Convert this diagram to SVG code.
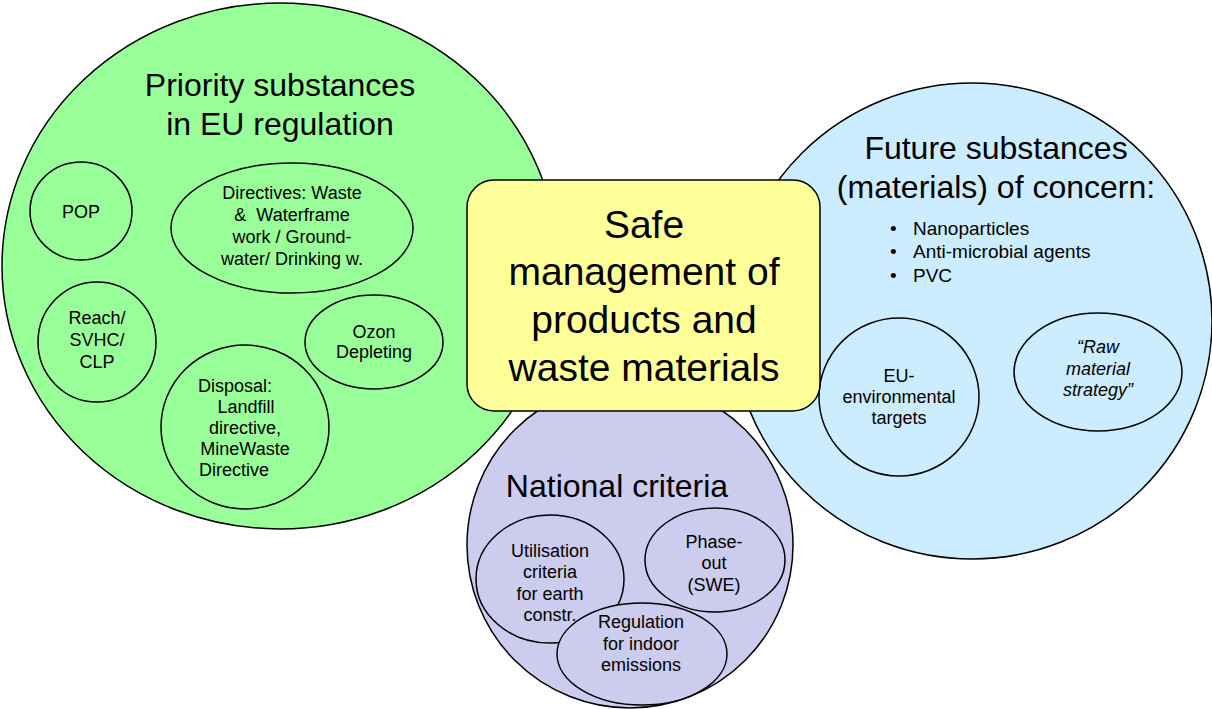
<svg xmlns="http://www.w3.org/2000/svg" width="1212" height="709" viewBox="0 0 1212 709">
<style>
text{font-family:"Liberation Sans",Arial,sans-serif;fill:#000;text-anchor:middle}
.o{stroke:#000;stroke-width:1.5}
.g{fill:#99FF99}
.b{fill:#CCECFF}
.p{fill:#CCCCEE}
.y{fill:#FFFF99}
.t{font-size:32px}
.s{font-size:18px}
.c{font-size:39px}
.bl{font-size:19px;text-anchor:start}
</style>
<rect width="1212" height="709" fill="#fff"/>
<g id="priority">
<ellipse class="o g" cx="280" cy="266" rx="278" ry="263"/>
<text class="t" x="280" y="96">Priority substances</text>
<text class="t" x="280" y="135">in EU regulation</text>
</g>
<g id="pop">
<ellipse class="o g" cx="81" cy="211" rx="51" ry="49"/>
<text class="s" x="81" y="218">POP</text>
</g>
<g id="directives">
<ellipse class="o g" cx="292" cy="228" rx="121" ry="65"/>
<text class="s" x="292" y="199">Directives: Waste</text>
<text class="s" x="292" y="221" xml:space="preserve">&amp;  Waterframe</text>
<text class="s" x="292" y="243">work / Ground-</text>
<text class="s" x="292" y="265">water/ Drinking w.</text>
</g>
<g id="reach">
<ellipse class="o g" cx="97" cy="342" rx="59" ry="60"/>
<text class="s" x="97" y="324">Reach/</text>
<text class="s" x="97" y="346">SVHC/</text>
<text class="s" x="97" y="368">CLP</text>
</g>
<g id="ozon">
<ellipse class="o g" cx="374" cy="342" rx="69" ry="47"/>
<text class="s" x="374" y="338">Ozon</text>
<text class="s" x="374" y="358">Depleting</text>
</g>
<g id="disposal">
<ellipse class="o g" cx="245" cy="427" rx="84" ry="82"/>
<text class="s" x="235" y="392">Disposal:</text>
<text class="s" x="246" y="413">Landfill</text>
<text class="s" x="245" y="434">directive,</text>
<text class="s" x="245" y="455">MineWaste</text>
<text class="s" x="234" y="476">Directive</text>
</g>
<g id="future">
<ellipse class="o b" cx="972" cy="321" rx="240" ry="238"/>
<text class="t" x="996" y="159">Future substances</text>
<text class="t" x="996" y="198">(materials) of concern:</text>
<text class="bl" x="890" y="235">•</text>
<text class="bl" x="913" y="235">Nanoparticles</text>
<text class="bl" x="890" y="258">•</text>
<text class="bl" x="913" y="258">Anti-microbial agents</text>
<text class="bl" x="890" y="282">•</text>
<text class="bl" x="913" y="282">PVC</text>
</g>
<g id="eu-targets">
<ellipse class="o b" cx="899" cy="397" rx="80" ry="79"/>
<text class="s" x="899" y="382">EU-</text>
<text class="s" x="899" y="403">environmental</text>
<text class="s" x="899" y="424">targets</text>
</g>
<g id="raw-material">
<ellipse class="o b" cx="1098" cy="372" rx="84" ry="59"/>
<text class="s" x="1098" y="353" font-style="italic">“Raw</text>
<text class="s" x="1098" y="375" font-style="italic">material</text>
<text class="s" x="1098" y="396" font-style="italic">strategy”</text>
</g>
<g id="national">
<ellipse class="o p" cx="630" cy="545" rx="163" ry="163"/>
<text class="t" x="617" y="497">National criteria</text>
</g>
<g id="utilisation">
<ellipse class="o p" cx="550" cy="579" rx="74" ry="64"/>
<text class="s" x="550" y="557">Utilisation</text>
<text class="s" x="550" y="578">criteria</text>
<text class="s" x="550" y="600">for earth</text>
<text class="s" x="550" y="621">constr.</text>
</g>
<g id="phase-out">
<ellipse class="o p" cx="715" cy="560" rx="70" ry="52"/>
<text class="s" x="714" y="548">Phase-</text>
<text class="s" x="714" y="569">out</text>
<text class="s" x="714" y="591">(SWE)</text>
</g>
<g id="regulation">
<ellipse class="o p" cx="642" cy="654" rx="85" ry="51"/>
<text class="s" x="641" y="628">Regulation</text>
<text class="s" x="641" y="650">for indoor</text>
<text class="s" x="641" y="671">emissions</text>
</g>
<g id="safe">
<rect class="o y" x="467" y="180" width="353" height="231" rx="27" ry="27"/>
<text class="c" x="644" y="238">Safe</text>
<text class="c" x="644" y="285">management of</text>
<text class="c" x="644" y="333">products and</text>
<text class="c" x="644" y="381">waste materials</text>
</g>
<g id="connectors"></g>
</svg>
